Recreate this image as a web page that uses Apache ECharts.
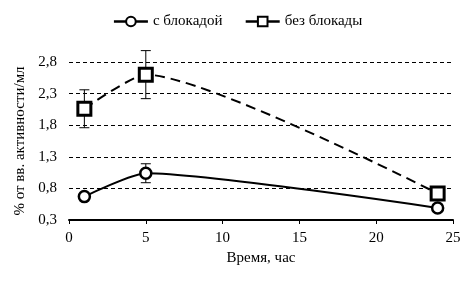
<!DOCTYPE html>
<html><head><meta charset="utf-8">
<script src="https://cdn.jsdelivr.net/npm/echarts@6/dist/echarts.min.js"></script>
<style>html,body{margin:0;padding:0;background:#fff}#c{width:475px;height:285px}</style>
</head><body><div id="c"></div>
<script>
var times = [1, 5, 24];
var withBlock = [0.67, 1.04, 0.49];
var withBlockErr = [0.04, 0.15, 0.05];
var noBlock = [2.06, 2.60, 0.72];
var noBlockErr = [0.30, 0.38, 0.10];
var seriesNames = ['с блокадой', 'без блокады'];
var xTicks = [0, 5, 10, 15, 20, 25];
var yTicks = [0.3, 0.8, 1.3, 1.8, 2.3, 2.8];

var FONT = '"Liberation Serif", "DejaVu Serif", serif';

function errData(vals, errs) {
  return times.map(function (t, i) { return [t, vals[i] - errs[i], vals[i] + errs[i]]; });
}
function errRender(params, api) {
  var x = api.value(0);
  var lo = api.coord([x, api.value(1)]);
  var hi = api.coord([x, api.value(2)]);
  var w = 5;
  var st = { stroke: '#000', lineWidth: 1 };
  return { type: 'group', children: [
    { type: 'line', shape: { x1: lo[0], y1: lo[1], x2: hi[0], y2: hi[1] }, style: st },
    { type: 'line', shape: { x1: lo[0] - w, y1: lo[1], x2: lo[0] + w, y2: lo[1] }, style: st },
    { type: 'line', shape: { x1: hi[0] - w, y1: hi[1], x2: hi[0] + w, y2: hi[1] }, style: st }
  ]};
}

var chart = echarts.init(document.getElementById('c'));
chart.setOption({
  animation: false,
  backgroundColor: '#fff',
  textStyle: { fontFamily: FONT, color: '#000' },
  legend: {
    top: 9, left: 'center', itemWidth: 34, itemHeight: 12, itemGap: 22,
    data: seriesNames,
    lineStyle: { type: 'solid', width: 2.5 },
    textStyle: { fontFamily: FONT, fontSize: 15, color: '#000' }
  },
  grid: { left: 69, right: 22, top: 62, bottom: 65 },
  xAxis: {
    type: 'value', min: xTicks[0], max: xTicks[xTicks.length - 1], interval: 5,
    name: 'Время, час', nameLocation: 'middle', nameGap: 27,
    nameTextStyle: { fontFamily: FONT, fontSize: 15, color: '#000' },
    axisLine: { lineStyle: { color: '#000', width: 2 } },
    axisTick: { show: true, inside: false, length: 4, lineStyle: { color: '#000' } },
    axisLabel: { fontFamily: FONT, fontSize: 15, color: '#000', margin: 11 },
    splitLine: { show: false }
  },
  yAxis: {
    type: 'value', min: yTicks[0], max: yTicks[yTicks.length - 1], interval: 0.5,
    name: '% от вв. активности/мл', nameLocation: 'middle', nameGap: 37, nameRotate: 90,
    nameTextStyle: { fontFamily: FONT, fontSize: 15, color: '#000' },
    axisLine: { show: false },
    axisTick: { show: false },
    axisLabel: { fontFamily: FONT, fontSize: 15, color: '#000', margin: 12,
      formatter: function (v) { return v.toFixed(1).replace('.', ','); } },
    splitLine: { show: true, lineStyle: { color: '#000', type: [4, 3], width: 1 } }
  },
  series: [
    { type: 'custom', silent: true, renderItem: errRender, data: errData(withBlock, withBlockErr), z: 1 },
    { type: 'custom', silent: true, renderItem: errRender, data: errData(noBlock, noBlockErr), z: 1 },
    {
      name: seriesNames[0], type: 'line', smooth: 0.2, z: 3,
      data: times.map(function (t, i) { return [t, withBlock[i]]; }),
      symbol: 'circle', symbolSize: 11,
      lineStyle: { color: '#000', width: 2 },
      itemStyle: { color: '#fff', borderColor: '#000', borderWidth: 2.5 }
    },
    {
      name: seriesNames[1], type: 'line', smooth: 0.2, z: 3,
      data: times.map(function (t, i) { return [t, noBlock[i]]; }),
      symbol: 'rect', symbolSize: 13,
      lineStyle: { color: '#000', width: 2, type: [10, 6] },
      itemStyle: { color: '#fff', borderColor: '#000', borderWidth: 3 }
    }
  ]
});
</script></body></html>
